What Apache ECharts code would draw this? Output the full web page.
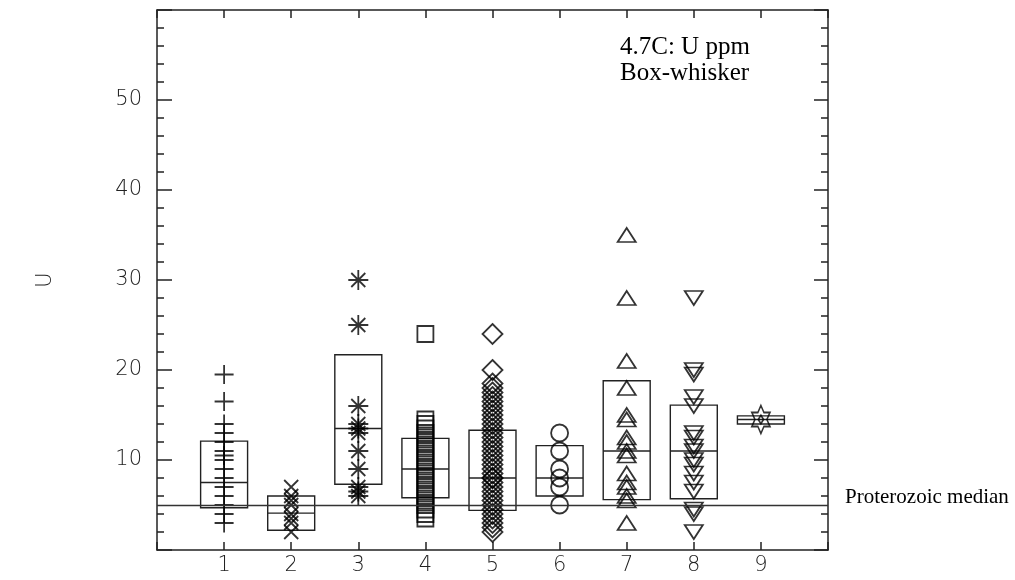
<!DOCTYPE html>
<html>
<head>
<meta charset="utf-8">
<script src="https://cdn.jsdelivr.net/npm/echarts@6/dist/echarts.min.js"></script>
<style>html,body{margin:0;padding:0;background:#fff;}#c{width:1015px;height:580px;}</style>
</head>
<body>
<div id="c"></div>
<script>
// ---- data ----
var categories = [1, 2, 3, 4, 5, 6, 7, 8, 9];
var u1 = [19.5, 16.5, 14, 13, 12, 11, 10.5, 10, 9, 8, 7, 6, 5, 4, 3];
var u2 = [7, 6, 5.5, 5, 4, 3.5, 3, 2];
var u3 = [30, 25, 16, 14, 13.5, 13, 11, 9, 7, 6.5, 6];
var u4 = [24, 14.5, 14, 13.5, 13, 12.5, 12, 11.5, 11, 10.5, 10, 9.5, 9, 8.5, 8, 7.5, 7, 6.5, 6, 5.5, 5, 4.5, 4, 3.5];
var u5 = [24, 20, 18.5, 18, 17.5, 17, 16.5, 16, 15.5, 15, 14.5, 14, 13.5, 13, 12.5, 12, 11.5, 11, 10.5, 10, 9.5, 9, 8.5, 8, 8, 7.5, 7, 6.5, 6, 5.5, 5, 4.5, 4, 3.5, 3, 2.5, 2];
var u6 = [13, 11, 9, 8, 7, 5];
var u7 = [35, 28, 21, 18, 15, 14.5, 12.5, 12, 11, 10.5, 8.5, 7.5, 7, 6, 5.5, 3];
var u8 = [28, 20, 19.5, 17, 16, 13, 12.5, 11.5, 11, 10, 9.5, 8.5, 7.5, 6.5, 4.5, 4, 2];
var u9 = [14.5];
var boxQ1  = [4.7, 2.2, 7.3, 5.8, 4.4, 6.0, 5.6, 5.7, 14.0];
var boxMed = [7.5, 4.1, 13.5, 9.0, 8.0, 8.0, 11.0, 11.0, 14.5];
var boxQ3  = [12.1, 6.0, 21.7, 12.4, 13.3, 11.6, 18.8, 16.1, 14.9];
var proterozoicMedian = 5;
var yTicks = [10, 20, 30, 40, 50];

// ---- symbols / styles ----
var groups = [u1, u2, u3, u4, u5, u6, u7, u8, u9];
var symbols = [
  {s: 'path://M0,10L20,10M10,0L10,20', size: 19},
  {s: 'path://M0,0L20,20M20,0L0,20', size: 14},
  {s: 'path://M0,10L20,10M10,0L10,20M3,3L17,17M17,3L3,17', size: 20},
  {s: 'rect', size: 16},
  {s: 'diamond', size: [20, 20]},
  {s: 'circle', size: 17},
  {s: 'triangle', size: [18, 14]},
  {s: 'path://M0,0L20,0L10,16Z', size: [18, 14]},
  {s: 'path://M10,0L12.89,5L18.66,5L15.77,10L18.66,15L12.89,15L10,20L7.11,15L1.34,15L4.23,10L1.34,5L7.11,5ZM10,7L12.5,10L10,13L7.5,10Z', size: [18, 28]}
];

var FONT_AX = "'DejaVu Sans', sans-serif";
var FONT_TX = "'Liberation Serif', 'Times New Roman', serif";

var series = [];
groups.forEach(function (g, i) {
  series.push({
    type: 'scatter',
    xAxisIndex: 0, yAxisIndex: 0,
    data: g.map(function (v) { return [categories[i], v]; }),
    symbol: symbols[i].s,
    symbolSize: symbols[i].size,
    itemStyle: {color: 'rgba(0,0,0,0)', borderColor: '#000', borderWidth: 1.8},
    emphasis: {disabled: true},
    silent: true,
    z: 3
  });
});

var boxData = categories.map(function (c, i) { return [c, boxQ1[i], boxMed[i], boxQ3[i]]; });
series.push({
  type: 'custom',
  xAxisIndex: 0, yAxisIndex: 0,
  data: boxData,
  silent: true,
  z: 2,
  renderItem: function (params, api) {
    var x = api.value(0);
    var p1 = api.coord([x - 0.35, api.value(1)]);
    var p3 = api.coord([x + 0.35, api.value(3)]);
    var pm1 = api.coord([x - 0.35, api.value(2)]);
    var pm2 = api.coord([x + 0.35, api.value(2)]);
    var st = {stroke: '#222', lineWidth: 1.4, fill: null};
    return {
      type: 'group',
      children: [
        {type: 'rect', shape: {x: p1[0], y: p3[1], width: p3[0] - p1[0], height: p1[1] - p3[1]}, style: st},
        {type: 'line', shape: {x1: pm1[0], y1: pm1[1], x2: pm2[0], y2: pm2[1]}, style: st}
      ]
    };
  },
  markLine: {
    silent: true,
    symbol: 'none',
    lineStyle: {color: '#333', width: 1.4, type: 'solid'},
    label: {show: false},
    data: [{yAxis: proterozoicMedian}]
  }
});

var axisLineStyle = {color: '#222', width: 1.5};
var option = {
  animation: false,
  backgroundColor: '#fff',
  title: {
    text: '4.7C: U ppm\nBox-whisker',
    left: 615, top: 29,
    textStyle: {fontFamily: FONT_TX, fontSize: 25, fontWeight: 'normal', color: '#000', lineHeight: 26}
  },
  grid: {left: 157, right: 187, top: 10, bottom: 30},
  xAxis: [{
    type: 'value', min: 0, max: 10, interval: 1, position: 'bottom',
    axisLine: {show: true, onZero: false, lineStyle: axisLineStyle},
    axisTick: {show: true, inside: true, length: 8, lineStyle: axisLineStyle},
    splitLine: {show: false},
    axisLabel: {
      margin: 5, fontFamily: FONT_AX, fontSize: 21, fontWeight: 200, color: '#222',
      formatter: function (v) { return categories.indexOf(v) >= 0 ? String(v) : ''; }
    }
  }, {
    type: 'value', min: 0, max: 10, interval: 1, position: 'top',
    axisLine: {show: true, onZero: false, lineStyle: axisLineStyle},
    axisTick: {show: true, inside: true, length: 8, lineStyle: axisLineStyle},
    splitLine: {show: false},
    axisLabel: {show: false}
  }],
  yAxis: [{
    type: 'value', min: 0, max: 60, interval: 10, position: 'left',
    name: 'U', nameLocation: 'middle', nameGap: 101, nameRotate: 90,
    nameTextStyle: {fontFamily: FONT_AX, fontSize: 21, fontWeight: 200, color: '#222'},
    axisLine: {show: true, onZero: false, lineStyle: axisLineStyle},
    axisTick: {show: true, inside: true, length: 15, lineStyle: axisLineStyle},
    minorTick: {show: true, splitNumber: 5, length: 7, lineStyle: axisLineStyle},
    splitLine: {show: false},
    axisLabel: {
      margin: 15, fontFamily: FONT_AX, fontSize: 21, fontWeight: 200, color: '#222',
      formatter: function (v) { return yTicks.indexOf(v) >= 0 ? String(v) : ''; }
    }
  }, {
    type: 'value', min: 0, max: 60, interval: 10, position: 'right',
    axisLine: {show: true, onZero: false, lineStyle: axisLineStyle},
    axisTick: {show: true, inside: true, length: 14, lineStyle: axisLineStyle},
    minorTick: {show: true, splitNumber: 5, length: 7, lineStyle: axisLineStyle},
    splitLine: {show: false},
    axisLabel: {show: false}
  }],
  series: series
};

var chart = echarts.init(document.getElementById('c'), null, {renderer: 'canvas'});
chart.setOption(option);

// label for the reference line, placed through the chart's own scales
var lblPos = chart.convertToPixel({xAxisIndex: 0, yAxisIndex: 0}, [10, proterozoicMedian]);
chart.setOption({
  graphic: [{
    type: 'text', silent: true,
    x: lblPos[0] + 17, y: lblPos[1] - 8,
    style: {
      text: 'Proterozoic median', fill: '#000',
      font: "21px 'Liberation Serif', 'Times New Roman', serif",
      textAlign: 'left', textVerticalAlign: 'middle'
    }
  }]
});
</script>
</body>
</html>
